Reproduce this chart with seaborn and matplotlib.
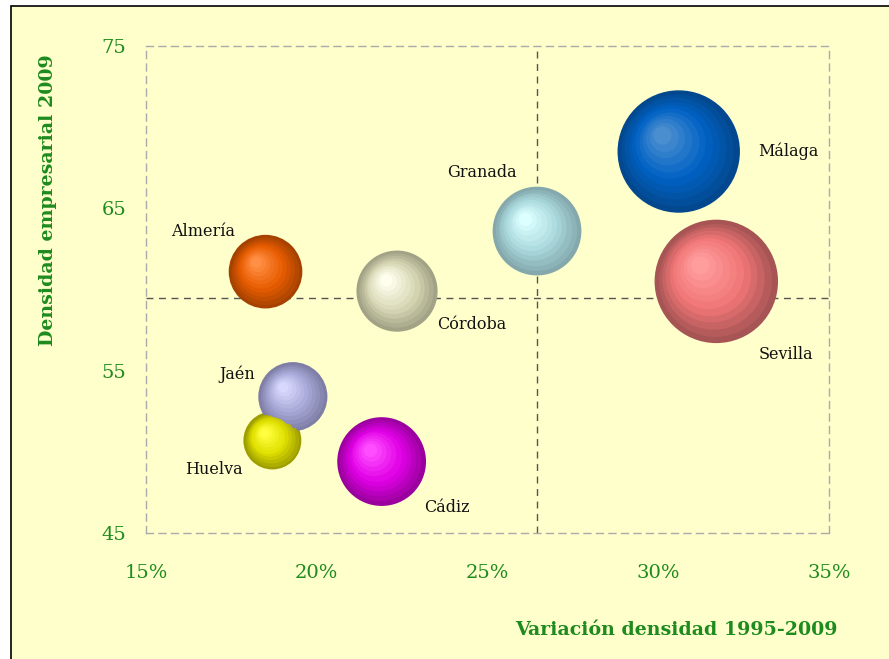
import numpy as np
import pandas as pd
import matplotlib.pyplot as plt
import matplotlib.colors as mcolors
import matplotlib.transforms as mtransforms
from matplotlib.patches import Rectangle
from matplotlib.ticker import FuncFormatter
import seaborn as sns

# data
provinces = ["Almería", "Cádiz", "Córdoba", "Granada", "Huelva", "Jaén", "Málaga", "Sevilla"]
variacion = [18.5, 21.9, 22.35, 26.45, 18.7, 19.3, 30.6, 31.7]       # % 1995-2009
densidad = [61.1, 49.4, 59.9, 63.6, 50.7, 53.4, 68.5, 60.5]          # 2009
tamano = [42, 61, 51, 61, 26, 37, 116, 118]                           # bubble size
media_x = 26.45
media_y = 59.5

df = pd.DataFrame({"provincia": provinces, "variacion": variacion,
                   "densidad": densidad, "tamano": tamano})

# bubble colours: edge, body, highlight
colores = {
    "Almería": ("#a64200", "#e85c00", "#ff8f45"),
    "Cádiz": ("#9a009e", "#e000e6", "#ff4dff"),
    "Córdoba": ("#a2a286", "#d9d9b6", "#fffff0"),
    "Granada": ("#84a8ac", "#a9d8dc", "#dcffff"),
    "Huelva": ("#9e9e00", "#e0e000", "#ffff40"),
    "Jaén": ("#7e7ea6", "#a8a8d6", "#d8d8ff"),
    "Málaga": ("#03488f", "#0062c4", "#4a8ed0"),
    "Sevilla": ("#a65454", "#f07575", "#ff9c9c"),
}
# label offsets in points (dx, dy) and alignment
etiquetas = {
    "Almería": (-45, 29, "center"),
    "Cádiz": (47, -33, "center"),
    "Córdoba": (54, -24, "center"),
    "Granada": (-40, 42, "center"),
    "Huelva": (-42, -21, "center"),
    "Jaén": (-40, 16, "center"),
    "Málaga": (57, 0, "left"),
    "Sevilla": (50, -53, "center"),
}

green = "#1e8b1e"
bg = "#ffffcc"
plt.rcParams["font.family"] = ["DejaVu Serif"]

fig = plt.figure(figsize=(8.89, 6.59), dpi=100, facecolor="white")
fig.add_artist(Rectangle((10.5 / 889, -0.01), 1.0, 1 - 5.5 / 659 + 0.01,
                         transform=fig.transFigure, facecolor=bg,
                         edgecolor="black", linewidth=1.2, zorder=0))
ax = fig.add_axes([146 / 889, 1 - 533 / 659, 683 / 889, 487 / 659])
ax.set_facecolor(bg)
ax.patch.set_alpha(0)

ax.set_xlim(15, 35)
ax.set_ylim(45, 75)

# quadrant lines
ax.axvline(media_x, color="#555555", lw=1, ls=(0, (5, 4)), zorder=1)
ax.axhline(media_y, color="#555555", lw=1, ls=(0, (5, 4)), zorder=1)

# bubble area proportional to size
smax = 7900
s_per_unit = smax / max(tamano)


def mezcla(c1, c2, t):
    a = np.array(mcolors.to_rgb(c1))
    b = np.array(mcolors.to_rgb(c2))
    return tuple(a + (b - a) * t)


# base layer through seaborn
sns.scatterplot(data=df, x="variacion", y="densidad", size="tamano",
                sizes=(0, smax), size_norm=(0, max(tamano)),
                hue="provincia", palette={p: colores[p][0] for p in provinces},
                linewidth=0, legend=False, ax=ax, zorder=3)

# shading layers
n = 11
for _, row in df.iterrows():
    edge, body, light = colores[row.provincia]
    s = row.tamano * s_per_unit
    r_pt = np.sqrt(s) / 2
    for i in range(1, n):
        t = i / (n - 1)
        f = 1 - 0.85 * t
        if t < 0.45:
            col = mezcla(edge, body, t / 0.45)
        else:
            col = mezcla(body, light, (t - 0.45) / 0.55)
        off = (1 - f) * 0.32 * r_pt
        tr = ax.transData + mtransforms.ScaledTranslation(-off / 72, off / 72, fig.dpi_scale_trans)
        ax.scatter([row.variacion], [row.densidad], s=s * f * f, color=col,
                   linewidths=0, transform=tr, zorder=3 + i * 0.01)

for _, row in df.iterrows():
    dx, dy, ha = etiquetas[row.provincia]
    ax.annotate(row.provincia, (row.variacion, row.densidad), xytext=(dx, dy),
                textcoords="offset points", ha=ha, va="center",
                fontsize=11.5, color="#111111", zorder=5)

ax.set_xticks([15, 20, 25, 30, 35])
ax.set_yticks([45, 55, 65, 75])
ax.xaxis.set_major_formatter(FuncFormatter(lambda v, p: f"{v:.0f}%"))
ax.tick_params(axis="both", length=0, colors=green, labelsize=14)
ax.tick_params(axis="x", pad=22)
ax.tick_params(axis="y", pad=14)

for sp in ax.spines.values():
    sp.set_color("#aaaaaa")
    sp.set_linestyle((0, (5, 4)))
    sp.set_linewidth(1)

ax.set_xlabel("Variación densidad 1995-2009", color=green, fontsize=13.7,
              fontweight="bold")
ax.xaxis.set_label_coords(0.777, -0.181)
ax.set_ylabel("Densidad empresarial 2009", color=green, fontsize=13.7,
              fontweight="bold")
ax.yaxis.set_label_coords(-0.131, 0.684)

fig.savefig("out.png", dpi=100, facecolor="white")
